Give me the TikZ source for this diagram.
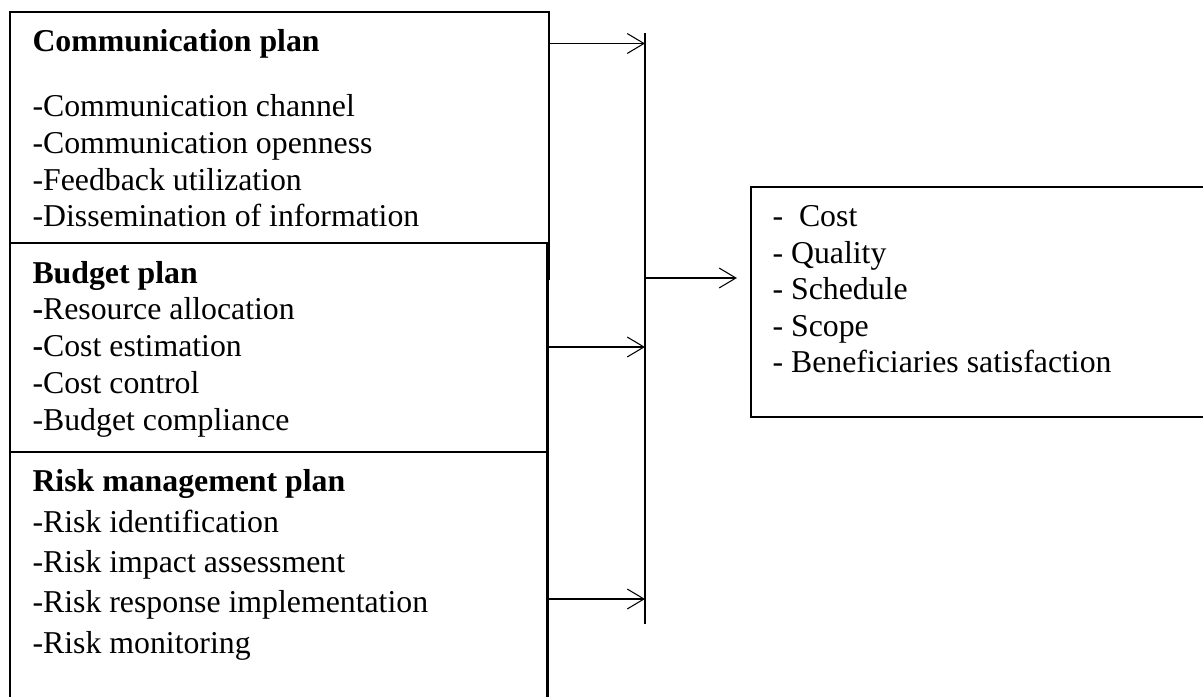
\documentclass[tikz,border=0pt]{standalone}
\usepackage{fontspec}
\setmainfont{Liberation Serif}
\usetikzlibrary{arrows.meta}

\begin{document}
\begin{tikzpicture}[
    x=0.3774pt, y=-0.3774pt,
    plan/.style={rectangle, draw, line width=0.85pt, fill=white, inner sep=0pt},
    items/.style={anchor=base west, align=left, inner sep=0pt, font=\fontsize{12pt}{13.85pt}\selectfont},
    bus/.style={line width=1pt},
    arrow/.style={-{Straight Barb[length=6.3pt, width=7.5pt]}, line width=0.4pt}
]
    \useasboundingbox (0,0) rectangle (1203,697);

    % plans on the left, each one lies over the one above
    \node[plan, minimum width=203.4pt, minimum height=100.8pt] (comm) at (279.5,145.5) {};
    \node[plan, minimum width=202.9pt, minimum height=92.8pt] (budget) at (278.75,366) {};
    \node[plan, minimum width=202.9pt, minimum height=116.2pt] (risk) at (278.75,606) {};
    % outcomes
    \node[plan, minimum width=188.3pt, minimum height=86.8pt] (perf) at (1000.5,302) {};

    % texts sit on the baseline of their last line
    \node[items] (commtext) at (32,227) {\textbf{Communication plan}\\[10.7pt]
        -Communication channel\\ -Communication openness\\
        -Feedback utilization\\ -Dissemination of information};
    \node[items] (budgettext) at (32,430) {\textbf{Budget plan}\\
        \textbf{-}Resource allocation\\ \textbf{-}Cost estimation\\
        -Cost control\\ -Budget compliance};
    \node[items, font=\fontsize{12pt}{15.2pt}\selectfont] (risktext) at (32,653) {\textbf{Risk management plan}\\
        -Risk identification\\ -Risk impact assessment\\
        -Risk response implementation\\ -Risk monitoring};
    \node[items, font=\fontsize{12pt}{13.8pt}\selectfont] (perftext) at (772,373) {-\ \ Cost\\ - Quality\\
        - Schedule\\ - Scope\\ - Beneficiaries satisfaction};

    % the bus line
    \coordinate (busT) at (645,33);
    \coordinate (busB) at (645,624);
    \coordinate (j1) at (645,43.5);
    \coordinate (j2) at (645,347);
    \coordinate (j3) at (645,599);
    \coordinate (j4) at (645,278);
    \draw[bus] (busT) -- (busB);

    \draw[arrow] (comm.east |- j1) -- (j1);
    \draw[arrow] (budget.east |- j2) -- (j2);
    \draw[arrow] (risk.east |- j3) -- (j3);
    \draw[arrow, shorten >=4.9pt] (j4) -- (perf.west |- j4);
\end{tikzpicture}
\end{document}
